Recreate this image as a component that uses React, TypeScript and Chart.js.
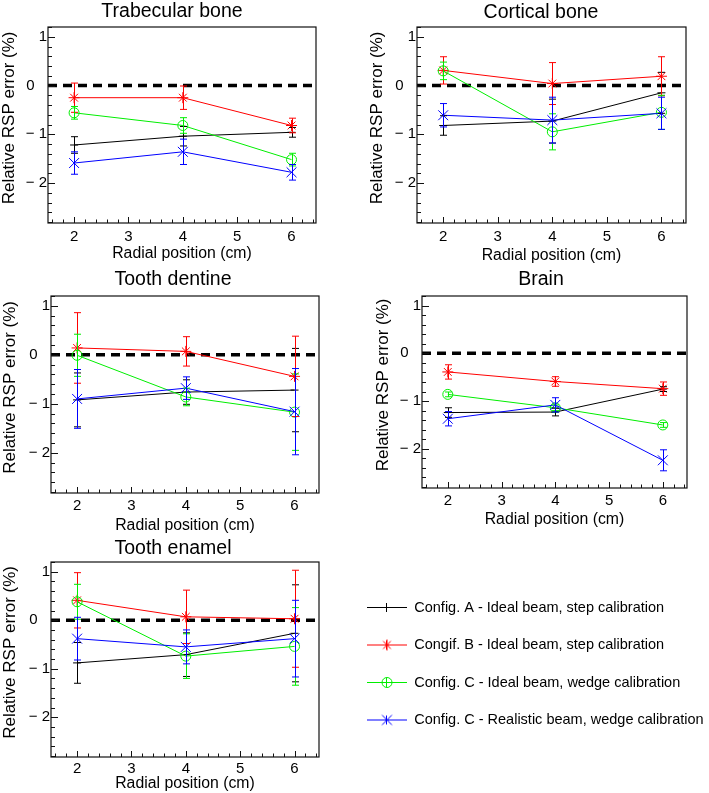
import React, { useEffect, useRef } from 'react';
import { Chart, registerables } from 'chart.js';

Chart.register(...registerables);

const FONT = "'Liberation Sans', Arial, Helvetica, sans-serif";

// ---------------- data ----------------
const radialPositions = [2, 4, 6];
const xTickValues = [2, 3, 4, 5, 6];
const yTickValues = [-2, -1, 0, 1];
const xLimits = [1.52, 6.45];
const yLimits = [-2.82, 1.2];

const seriesLabels = [
  'Config. A - Ideal beam, step calibration',
  'Congif. B - Ideal beam, step calibration',
  'Config. C - Ideal beam, wedge calibration',
  'Config. C - Realistic beam, wedge calibration',
];
const panelTitles = ['Trabecular bone', 'Cortical bone', 'Tooth dentine', 'Brain', 'Tooth enamel'];
const xAxisTitle = 'Radial position (cm)';
const yAxisTitle = 'Relative RSP error (%)';

// Trabecular bone
const trabecularA = [-1.22, -1.04, -0.96];
const trabecularAErr = [0.17, 0.2, 0.1];
const trabecularB = [-0.25, -0.25, -0.82];
const trabecularBErr = [0.3, 0.24, 0.15];
const trabecularC = [-0.56, -0.82, -1.52];
const trabecularCErr = [0.13, 0.16, 0.13];
const trabecularD = [-1.59, -1.36, -1.78];
const trabecularDErr = [0.23, 0.26, 0.16];

// Cortical bone
const corticalA = [-0.82, -0.73, -0.15];
const corticalAErr = [0.2, 0.45, 0.42];
const corticalB = [0.31, 0.04, 0.19];
const corticalBErr = [0.28, 0.43, 0.4];
const corticalC = [0.3, -0.95, -0.55];
const corticalCErr = [0.18, 0.37, 0.35];
const corticalD = [-0.61, -0.71, -0.57];
const corticalDErr = [0.24, 0.47, 0.33];

// Tooth dentine
const dentineA = [-0.92, -0.76, -0.72];
const dentineAErr = [0.55, 0.25, 0.85];
const dentineB = [0.14, 0.07, -0.44];
const dentineBErr = [0.72, 0.3, 0.82];
const dentineC = [-0.01, -0.86, -1.17];
const dentineCErr = [0.43, 0.18, 0.78];
const dentineD = [-0.9, -0.68, -1.16];
const dentineDErr = [0.6, 0.23, 0.88];

// Brain
const brainA = [-1.24, -1.23, -0.75];
const brainAErr = [0.1, 0.08, 0.05];
const brainB = [-0.39, -0.59, -0.74];
const brainBErr = [0.15, 0.1, 0.14];
const brainC = [-0.86, -1.14, -1.5];
const brainCErr = [0.05, 0.06, 0.05];
const brainD = [-1.37, -1.08, -2.24];
const brainDErr = [0.15, 0.15, 0.22];

// Tooth enamel
const enamelA = [-0.88, -0.71, -0.27];
const enamelAErr = [0.42, 0.45, 1.0];
const enamelB = [0.41, 0.07, 0.03];
const enamelBErr = [0.57, 0.55, 1.0];
const enamelC = [0.38, -0.74, -0.54];
const enamelCErr = [0.36, 0.46, 0.8];
const enamelD = [-0.38, -0.55, -0.38];
const enamelDErr = [0.44, 0.35, 0.79];

const panelValues = [
  [trabecularA, trabecularB, trabecularC, trabecularD],
  [corticalA, corticalB, corticalC, corticalD],
  [dentineA, dentineB, dentineC, dentineD],
  [brainA, brainB, brainC, brainD],
  [enamelA, enamelB, enamelC, enamelD],
];
const panelErrors = [
  [trabecularAErr, trabecularBErr, trabecularCErr, trabecularDErr],
  [corticalAErr, corticalBErr, corticalCErr, corticalDErr],
  [dentineAErr, dentineBErr, dentineCErr, dentineDErr],
  [brainAErr, brainBErr, brainCErr, brainDErr],
  [enamelAErr, enamelBErr, enamelCErr, enamelDErr],
];

// ---------------- styles / layout ----------------
const seriesColors = ['#000000', '#ff0000', '#00ee00', '#0000ff'];
const seriesMarkers = ['line', 'star', 'circle', 'crossRot'];
const markerRadius = [4, 5.5, 5, 7];

const TITLE_SIZE = 19.5;
const TICK_SIZE = 15;
const XTITLE_SIZE = 15.8;
const YTITLE_SIZE = 17;
const LEGEND_SIZE = 14.5;

// ox, oy, w, h: canvas box; frame: [left, top, right, bottom]
const panelLayouts = [
  { ox: 0, oy: 0, w: 344, h: 265, frame: [48, 27, 316, 223], titleY: 11.7, xTickY: 236.7, xTitleY: 254, yTitleX: 9.5 },
  { ox: 366, oy: 0, w: 350, h: 265, frame: [417, 27, 686, 223], titleY: 13, xTickY: 236.7, xTitleY: 255.5, yTitleX: 377.3 },
  { ox: 0, oy: 267, w: 346, h: 271, frame: [51, 296, 319, 493], titleY: 279.5, xTickY: 505.8, xTitleY: 526, yTitleX: 10 },
  { ox: 366, oy: 267, w: 350, h: 265, frame: [422, 296, 687, 488], titleY: 279.5, xTickY: 500.8, xTitleY: 520, yTitleX: 383.3 },
  { ox: 0, oy: 535, w: 346, h: 258, frame: [51, 562, 319, 757], titleY: 548.3, xTickY: 769, xTitleY: 784, yTitleX: 10 },
];

const fmtXTick = (v: number) => String(v);
const fmtYTick = (v: number) => {
  if (v < 0) return '\u2212 ' + Math.abs(v);
  if (v === 0) return '0   ';
  return String(v);
};

const rootFramePlugin = {
  id: 'rootFrame',
  afterDatasetsDraw(chart: any) {
    const { ctx, chartArea } = chart;
    const { left, right, top, bottom } = chartArea;
    const xs = chart.scales.x;
    const ys = chart.scales.y;
    // error bars
    ctx.save();
    ctx.beginPath();
    ctx.rect(left, top, right - left, bottom - top);
    ctx.clip();
    chart.data.datasets.forEach((ds: any) => {
      if (!ds.errors) return;
      ctx.strokeStyle = ds.borderColor;
      ctx.lineWidth = 1;
      ds.data.forEach((p: any, j: number) => {
        const px = Math.round(xs.getPixelForValue(p.x)) + 0.5;
        const e = ds.errors[j];
        const yTop = ys.getPixelForValue(p.y + e);
        const yBot = ys.getPixelForValue(p.y - e);
        ctx.beginPath();
        ctx.moveTo(px, yTop);
        ctx.lineTo(px, yBot);
        ctx.moveTo(px - 3.5, yTop);
        ctx.lineTo(px + 3.5, yTop);
        ctx.moveTo(px - 3.5, yBot);
        ctx.lineTo(px + 3.5, yBot);
        ctx.stroke();
      });
    });
    ctx.restore();

    // frame + inward ticks
    ctx.save();
    ctx.strokeStyle = '#111';
    ctx.lineWidth = 1.2;
    ctx.strokeRect(left, top, right - left, bottom - top);
    ctx.lineWidth = 1;
    ctx.beginPath();
    for (let k = Math.ceil(xs.min * 5); k <= Math.floor(xs.max * 5); k++) {
      const v = k / 5;
      const major = xTickValues.some((t) => Math.abs(t - v) < 1e-6);
      const px = Math.round(xs.getPixelForValue(v)) + 0.5;
      ctx.moveTo(px, bottom);
      ctx.lineTo(px, bottom - (major ? 6 : 3.5));
    }
    for (let k = Math.ceil(ys.min * 5); k <= Math.floor(ys.max * 5); k++) {
      const v = k / 5;
      const major = yTickValues.some((t) => Math.abs(t - v) < 1e-6);
      const py = Math.round(ys.getPixelForValue(v)) + 0.5;
      ctx.moveTo(left, py);
      ctx.lineTo(left + (major ? 7 : 4), py);
    }
    ctx.stroke();
    ctx.restore();
  },
};

function buildPanelConfig(pi: number) {
  const L = panelLayouts[pi];
  const [fl, ft, fr, fb] = L.frame;
  const titleLH = TITLE_SIZE * 1.2;
  const titleH = ft - L.oy;
  const tPadTop = L.titleY - L.oy - titleLH / 2;
  const tPadBottom = titleH - titleLH - tPadTop;

  const datasets: any[] = panelValues[pi].map((vals, si) => ({
    label: seriesLabels[si],
    data: radialPositions.map((x, j) => ({ x, y: vals[j] })),
    errors: panelErrors[pi][si],
    borderColor: seriesColors[si],
    backgroundColor: 'rgba(0,0,0,0)',
    borderWidth: 1,
    pointStyle: seriesMarkers[si],
    pointRadius: markerRadius[si],
    pointHoverRadius: markerRadius[si],
    pointBorderWidth: 1,
    pointBorderColor: seriesColors[si],
    pointBackgroundColor: 'rgba(0,0,0,0)',
    tension: 0,
    order: 4 - si,
  }));
  datasets.push({
    label: 'zero',
    data: [
      { x: xLimits[0], y: 0 },
      { x: xLimits[1], y: 0 },
    ],
    borderColor: '#000',
    borderWidth: 3.5,
    borderDash: [9, 6],
    borderCapStyle: 'butt',
    pointRadius: 0,
    order: 10,
  });

  return {
    type: 'line' as const,
    data: { datasets },
    options: {
      responsive: false,
      animation: false,
      devicePixelRatio: 1,
      events: [],
      layout: { padding: 0 },
      plugins: {
        legend: { display: false },
        tooltip: { enabled: false },
        title: {
          display: true,
          text: panelTitles[pi],
          color: '#000',
          font: { family: FONT, size: TITLE_SIZE, weight: 'normal', lineHeight: 1.2 },
          padding: { top: tPadTop, bottom: tPadBottom },
        },
      },
      scales: {
        x: {
          type: 'linear',
          min: xLimits[0],
          max: xLimits[1],
          grid: { display: false, drawTicks: false },
          border: { display: false },
          afterBuildTicks: (s: any) => {
            s.ticks = xTickValues.map((v) => ({ value: v }));
          },
          afterFit: (s: any) => {
            s.height = L.oy + L.h - fb;
          },
          ticks: {
            autoSkip: false,
            maxRotation: 0,
            color: '#000',
            padding: L.xTickY - fb - TICK_SIZE / 2,
            font: { family: FONT, size: TICK_SIZE, lineHeight: 1 },
            callback: (v: any) => fmtXTick(v),
          },
          title: {
            display: true,
            text: xAxisTitle,
            color: '#000',
            font: { family: FONT, size: XTITLE_SIZE, lineHeight: 1 },
            padding: { top: 0, bottom: L.oy + L.h - L.xTitleY - XTITLE_SIZE / 2 },
          },
        },
        y: {
          type: 'linear',
          position: 'left',
          min: yLimits[0],
          max: yLimits[1],
          grid: { display: false, drawTicks: false },
          border: { display: false },
          afterBuildTicks: (s: any) => {
            s.ticks = yTickValues.map((v) => ({ value: v }));
          },
          afterFit: (s: any) => {
            s.width = fl - L.ox;
          },
          ticks: {
            autoSkip: false,
            color: '#000',
            padding: 1,
            font: { family: FONT, size: TICK_SIZE, lineHeight: 1 },
            callback: (v: any) => fmtYTick(v),
          },
          title: {
            display: true,
            text: '   ' + yAxisTitle,
            color: '#000',
            font: { family: FONT, size: YTITLE_SIZE, lineHeight: 1 },
            padding: { top: L.yTitleX - L.ox - YTITLE_SIZE / 2, bottom: 0 },
          },
        },
        yRight: {
          type: 'linear',
          position: 'right',
          min: 0,
          max: 1,
          display: true,
          grid: { display: false, drawTicks: false },
          border: { display: false },
          ticks: { display: false },
          afterFit: (s: any) => {
            s.width = L.ox + L.w - fr;
          },
        },
      },
    },
    plugins: [rootFramePlugin],
  };
}

function Panel({ index }: { index: number }) {
  const ref = useRef<HTMLCanvasElement>(null);
  const L = panelLayouts[index];
  useEffect(() => {
    if (!ref.current) return;
    const chart = new Chart(ref.current, buildPanelConfig(index) as any);
    return () => chart.destroy();
  }, [index]);
  return (
    <canvas
      ref={ref}
      width={L.w}
      height={L.h}
      style={{ position: 'absolute', left: L.ox, top: L.oy, width: L.w, height: L.h }}
    />
  );
}

// legend sample: line + error tick + marker, drawn on a small canvas used as point style
function makeLegendSample(si: number): HTMLCanvasElement {
  const c = document.createElement('canvas');
  c.width = 40;
  c.height = 17;
  const g = c.getContext('2d') as CanvasRenderingContext2D;
  const col = seriesColors[si];
  g.strokeStyle = col;
  g.lineWidth = 1;
  const cx = 20;
  const cy = 8.5;
  g.beginPath();
  g.moveTo(0, cy);
  g.lineTo(40, cy);
  g.moveTo(cx - 0.5, cy - 4.5);
  g.lineTo(cx - 0.5, cy + 4.5);
  g.stroke();
  const m = seriesMarkers[si];
  const r = markerRadius[si];
  g.beginPath();
  if (m === 'star') {
    const d = r * Math.SQRT1_2;
    g.moveTo(cx, cy - r); g.lineTo(cx, cy + r);
    g.moveTo(cx - r, cy); g.lineTo(cx + r, cy);
    g.moveTo(cx - d, cy - d); g.lineTo(cx + d, cy + d);
    g.moveTo(cx - d, cy + d); g.lineTo(cx + d, cy - d);
  } else if (m === 'circle') {
    g.arc(cx, cy, r, 0, Math.PI * 2);
  } else if (m === 'crossRot') {
    const d = r * Math.SQRT1_2;
    g.moveTo(cx - d, cy - d); g.lineTo(cx + d, cy + d);
    g.moveTo(cx - d, cy + d); g.lineTo(cx + d, cy - d);
  }
  g.stroke();
  return c;
}

const legendBox = { ox: 344, oy: 577, w: 365, h: 200, padTop: 0.25, gap: 23 };

function LegendPanel() {
  const ref = useRef<HTMLCanvasElement>(null);
  useEffect(() => {
    if (!ref.current) return;
    const samples = seriesLabels.map((_, si) => makeLegendSample(si));
    const chart = new Chart(ref.current, {
      type: 'line',
      data: {
        datasets: seriesLabels.map((label, si) => ({
          label,
          data: [],
          borderColor: seriesColors[si],
        })),
      },
      options: {
        responsive: false,
        animation: false,
        devicePixelRatio: 1,
        events: [],
        layout: { padding: { left: 0, top: legendBox.padTop } },
        scales: {
          x: { type: 'linear', display: false },
          y: { type: 'linear', display: false },
        },
        plugins: {
          tooltip: { enabled: false },
          legend: {
            display: true,
            position: 'left',
            align: 'start',
            maxWidth: 360,
            labels: {
              usePointStyle: true,
              pointStyleWidth: 40,
              padding: legendBox.gap,
              color: '#000',
              font: { family: FONT, size: LEGEND_SIZE },
              generateLabels: () =>
                seriesLabels.map((text, si) => ({
                  text,
                  datasetIndex: si,
                  hidden: false,
                  pointStyle: samples[si],
                  fillStyle: 'rgba(0,0,0,0)',
                  strokeStyle: seriesColors[si],
                  lineWidth: 0,
                  fontColor: '#000',
                })),
            },
          },
        },
      } as any,
    });
    return () => chart.destroy();
  }, []);
  return (
    <canvas
      ref={ref}
      width={legendBox.w}
      height={legendBox.h}
      style={{ position: 'absolute', left: legendBox.ox, top: legendBox.oy, width: legendBox.w, height: legendBox.h }}
    />
  );
}

export default function App() {
  return (
    <div
      style={{
        position: 'absolute',
        left: 0,
        top: 0,
        width: 709,
        height: 793,
        overflow: 'hidden',
        background: '#fff',
      }}
    >
      {panelTitles.map((_, i) => (
        <Panel key={i} index={i} />
      ))}
      <LegendPanel />
    </div>
  );
}
